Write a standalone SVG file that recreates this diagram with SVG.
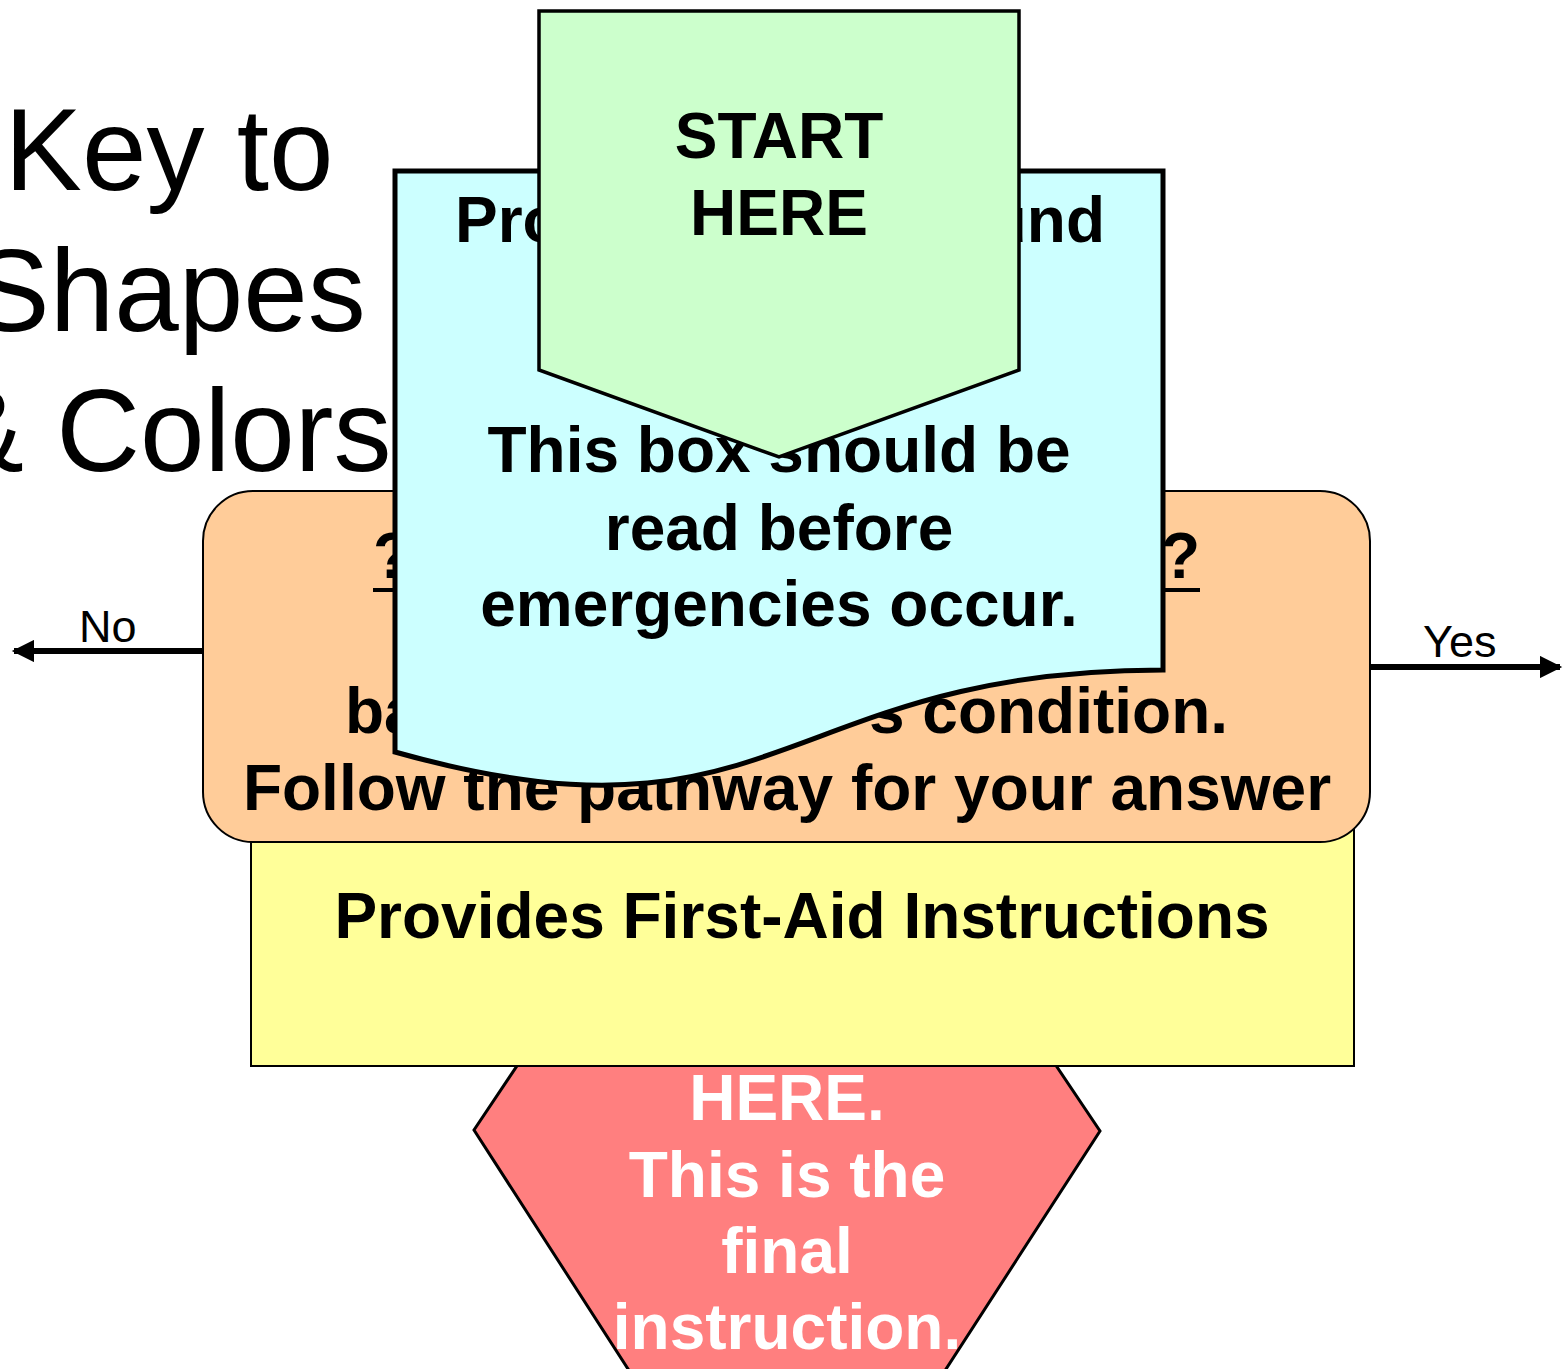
<svg xmlns="http://www.w3.org/2000/svg" width="1567" height="1369" viewBox="0 0 1567 1369">
<defs>
<style>
text{font-family:"Liberation Sans",Arial,sans-serif}
.b{font-weight:bold;font-size:64px;fill:#000}
.w{font-weight:bold;font-size:64px;fill:#fff}
.title{font-size:116px;fill:#000}
.lbl{font-size:45px;fill:#000}
.c{text-anchor:middle}
</style>
<marker id="ah" viewBox="0 0 10 10" refX="9" refY="5" markerWidth="3.9" markerHeight="3.7" markerUnits="strokeWidth" orient="auto">
<path d="M0,0 L10,5 L0,10 Z" fill="#000"/>
</marker>
</defs>
<rect width="1567" height="1369" fill="#fff"/>

<g id="title">
<text class="title c" x="169" y="190">Key to</text>
<text class="title c" x="169" y="331">Shapes</text>
<text class="title c" x="169" y="471">&amp; Colors</text>
</g>

<g id="end-node">
<polygon points="561,1000 1012,1000 1100,1131 926,1400 648,1400 474,1130" fill="#FF7F7F" stroke="#000" stroke-width="3"/>
<text class="w c" x="787" y="1120">HERE.</text>
<text class="w c" x="787" y="1197">This is the</text>
<text class="w c" x="787" y="1273">final</text>
<text class="w c" x="787" y="1349">instruction.</text>
</g>

<g id="instruction-node">
<rect x="251" y="800" width="1103" height="266" fill="#FFFF99" stroke="#000" stroke-width="2"/>
<text class="b c" x="802" y="938">Provides First-Aid Instructions</text>
</g>

<g id="connectors">
<line x1="203" y1="651" x2="14" y2="651" stroke="#000" stroke-width="6" marker-end="url(#ah)"/>
<line x1="1370" y1="667" x2="1560" y2="667" stroke="#000" stroke-width="6" marker-end="url(#ah)"/>
<text class="lbl" x="79" y="642">No</text>
<text class="lbl" x="1423" y="657">Yes</text>
</g>

<g id="question-node">
<rect x="203" y="491" width="1167" height="351" rx="50" ry="50" fill="#FFCC99" stroke="#000" stroke-width="2"/>
<text class="b" x="373" y="578">?</text>
<text class="b" x="1200" y="578" text-anchor="end">?</text>
<line x1="373" y1="590" x2="1200" y2="590" stroke="#000" stroke-width="4"/>
<text class="b" x="345" y="733">ba</text>
<text class="b" x="1228" y="733" text-anchor="end">'s condition.</text>
<text class="b c" x="787" y="810">Follow the pathway for your answer</text>
</g>

<g id="background-node">
<path d="M395,171 H1163 V670 C779,670 779,860 395,752 Z" fill="#CCFFFF" stroke="#000" stroke-width="5"/>
<text class="b" x="455" y="242">Pro</text>
<text class="b" x="1105" y="242" text-anchor="end">und</text>
<text class="b c" x="779" y="472">This box should be</text>
<text class="b c" x="779" y="550">read before</text>
<text class="b c" x="779" y="626">emergencies occur.</text>
</g>

<g id="start-node">
<polygon points="539,11 1019,11 1019,370 779,457 539,370" fill="#CCFFCC" stroke="#000" stroke-width="3.5"/>
<text class="b c" x="779" y="158">START</text>
<text class="b c" x="779" y="235">HERE</text>
</g>
</svg>
